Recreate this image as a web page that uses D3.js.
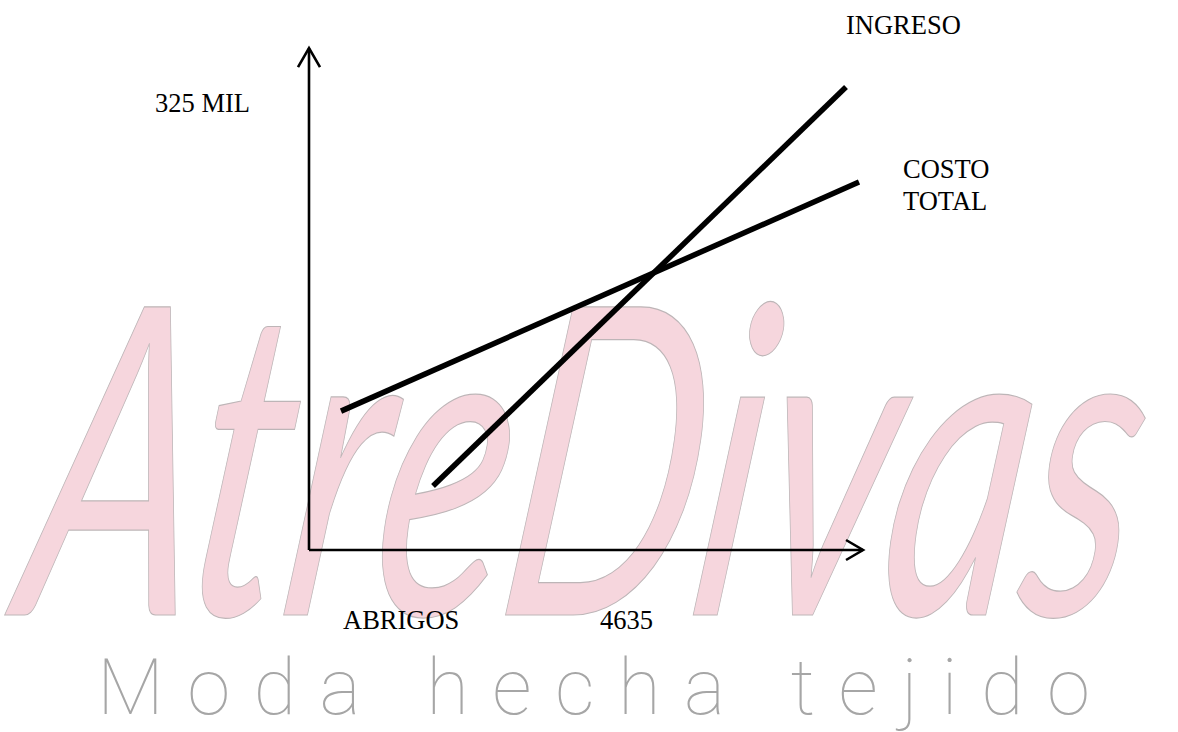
<!DOCTYPE html>
<html>
<head>
<meta charset="utf-8">
<script src="https://cdn.jsdelivr.net/npm/d3@7"></script>
<style>
  html, body { margin: 0; padding: 0; background: #ffffff; }
  svg { display: block; }
</style>
</head>
<body>
<svg id="chart" width="1178" height="732"></svg>
<script>
// ---- data ----
const seriesNames = ["INGRESO", "COSTO TOTAL"];
// x: abrigos (units), y: thousands of pesos (MIL)
const ingresoX = [1661, 7192];
const ingresoY = [46.5, 336.7];
const costoX = [429, 7366];
const costoY = [101, 267.6];
const xAxisEnd = 7420;
const yAxisEnd = 365;
const yTickValues = [325];
const yTickLabels = ["325 MIL"];
const xTickValues = [4635];
const xTickLabels = ["4635"];
const xAxisTitle = "ABRIGOS";
const watermarkText = "AtreDivas";
const taglineText = "Moda hecha tejido";

const svg = d3.select("#chart");
const x = d3.scaleLinear().domain([0, 7500]).range([309, 869]);
const y = d3.scaleLinear().domain([0, 400]).range([550, 0]);

// ---- watermark (behind) ----
const wm = svg.append("g").attr("class", "watermark");
wm.append("text")
  .attr("x", 100).attr("y", 615)
  .attr("transform", "skewX(-8)")
  .attr("textLength", 1110).attr("lengthAdjust", "spacingAndGlyphs")
  .attr("font-family", "Lato, 'Open Sans', sans-serif")
  .attr("font-style", "italic")
  .attr("font-weight", 400)
  .attr("font-size", 430)
  .attr("fill", "#f6d6dd")
  .attr("stroke", "#bdb5b7")
  .attr("stroke-width", 1.2)
  .text(watermarkText);

wm.append("text")
  .attr("x", 97).attr("y", 714)
  .attr("textLength", 993).attr("lengthAdjust", "spacing")
  .attr("font-family", "Roboto, 'Open Sans', sans-serif")
  .attr("font-weight", 100)
  .attr("font-size", 78)
  .attr("fill", "#a6a6a6")
  .text(taglineText);

// ---- axes ----
const ax = svg.append("g").attr("stroke", "#000").attr("stroke-width", 2.6).attr("fill", "none");
const line = d3.line();
ax.append("path").attr("d", line([[x(0), y(0)], [x(0), y(yAxisEnd)]]));
ax.append("path").attr("d", line([[x(0), y(0)], [x(xAxisEnd), y(0)]]));
// arrow heads (open chevrons)
ax.append("path").attr("d", line([[x(0) - 11, y(yAxisEnd) + 19], [x(0), y(yAxisEnd)], [x(0) + 11, y(yAxisEnd) + 19]]));
ax.append("path").attr("d", line([[x(xAxisEnd) - 17, y(0) - 10], [x(xAxisEnd), y(0)], [x(xAxisEnd) - 17, y(0) + 10]]));

// ---- series lines ----
const series = [
  { name: seriesNames[0], pts: d3.zip(ingresoX, ingresoY) },
  { name: seriesNames[1], pts: d3.zip(costoX, costoY) }
];
const lineGen = d3.line().x(d => x(d[0])).y(d => y(d[1]));
svg.append("g").selectAll("path").data(series).join("path")
  .attr("d", d => lineGen(d.pts))
  .attr("fill", "none")
  .attr("stroke", "#000")
  .attr("stroke-width", 5.5);

// ---- labels ----
const font = "'Liberation Serif', 'Times New Roman', serif";
const lab = svg.append("g").attr("font-family", font).attr("font-size", 26.5).attr("fill", "#000");

lab.selectAll("text.ytick").data(yTickValues).join("text")
  .attr("class", "ytick")
  .attr("x", x(0) - 154).attr("y", d => y(d) + 9)
  .text((d, i) => yTickLabels[i]);

lab.selectAll("text.xtick").data(xTickValues).join("text")
  .attr("class", "xtick")
  .attr("x", d => x(d) - 55).attr("y", y(0) + 79)
  .text((d, i) => xTickLabels[i]);

lab.append("text").attr("x", x(0) + 34).attr("y", y(0) + 79).text(xAxisTitle);

// series labels
lab.append("text")
  .attr("x", x(ingresoX[1])).attr("y", y(ingresoY[1]) - 53)
  .text(seriesNames[0]);
const ct = lab.append("text").attr("x", x(costoX[1]) + 44).attr("y", y(costoY[1]) - 4);
seriesNames[1].split(" ").forEach((w, i) => {
  ct.append("tspan").attr("x", x(costoX[1]) + 44).attr("dy", i === 0 ? 0 : 32).text(w);
});
</script>
</body>
</html>
